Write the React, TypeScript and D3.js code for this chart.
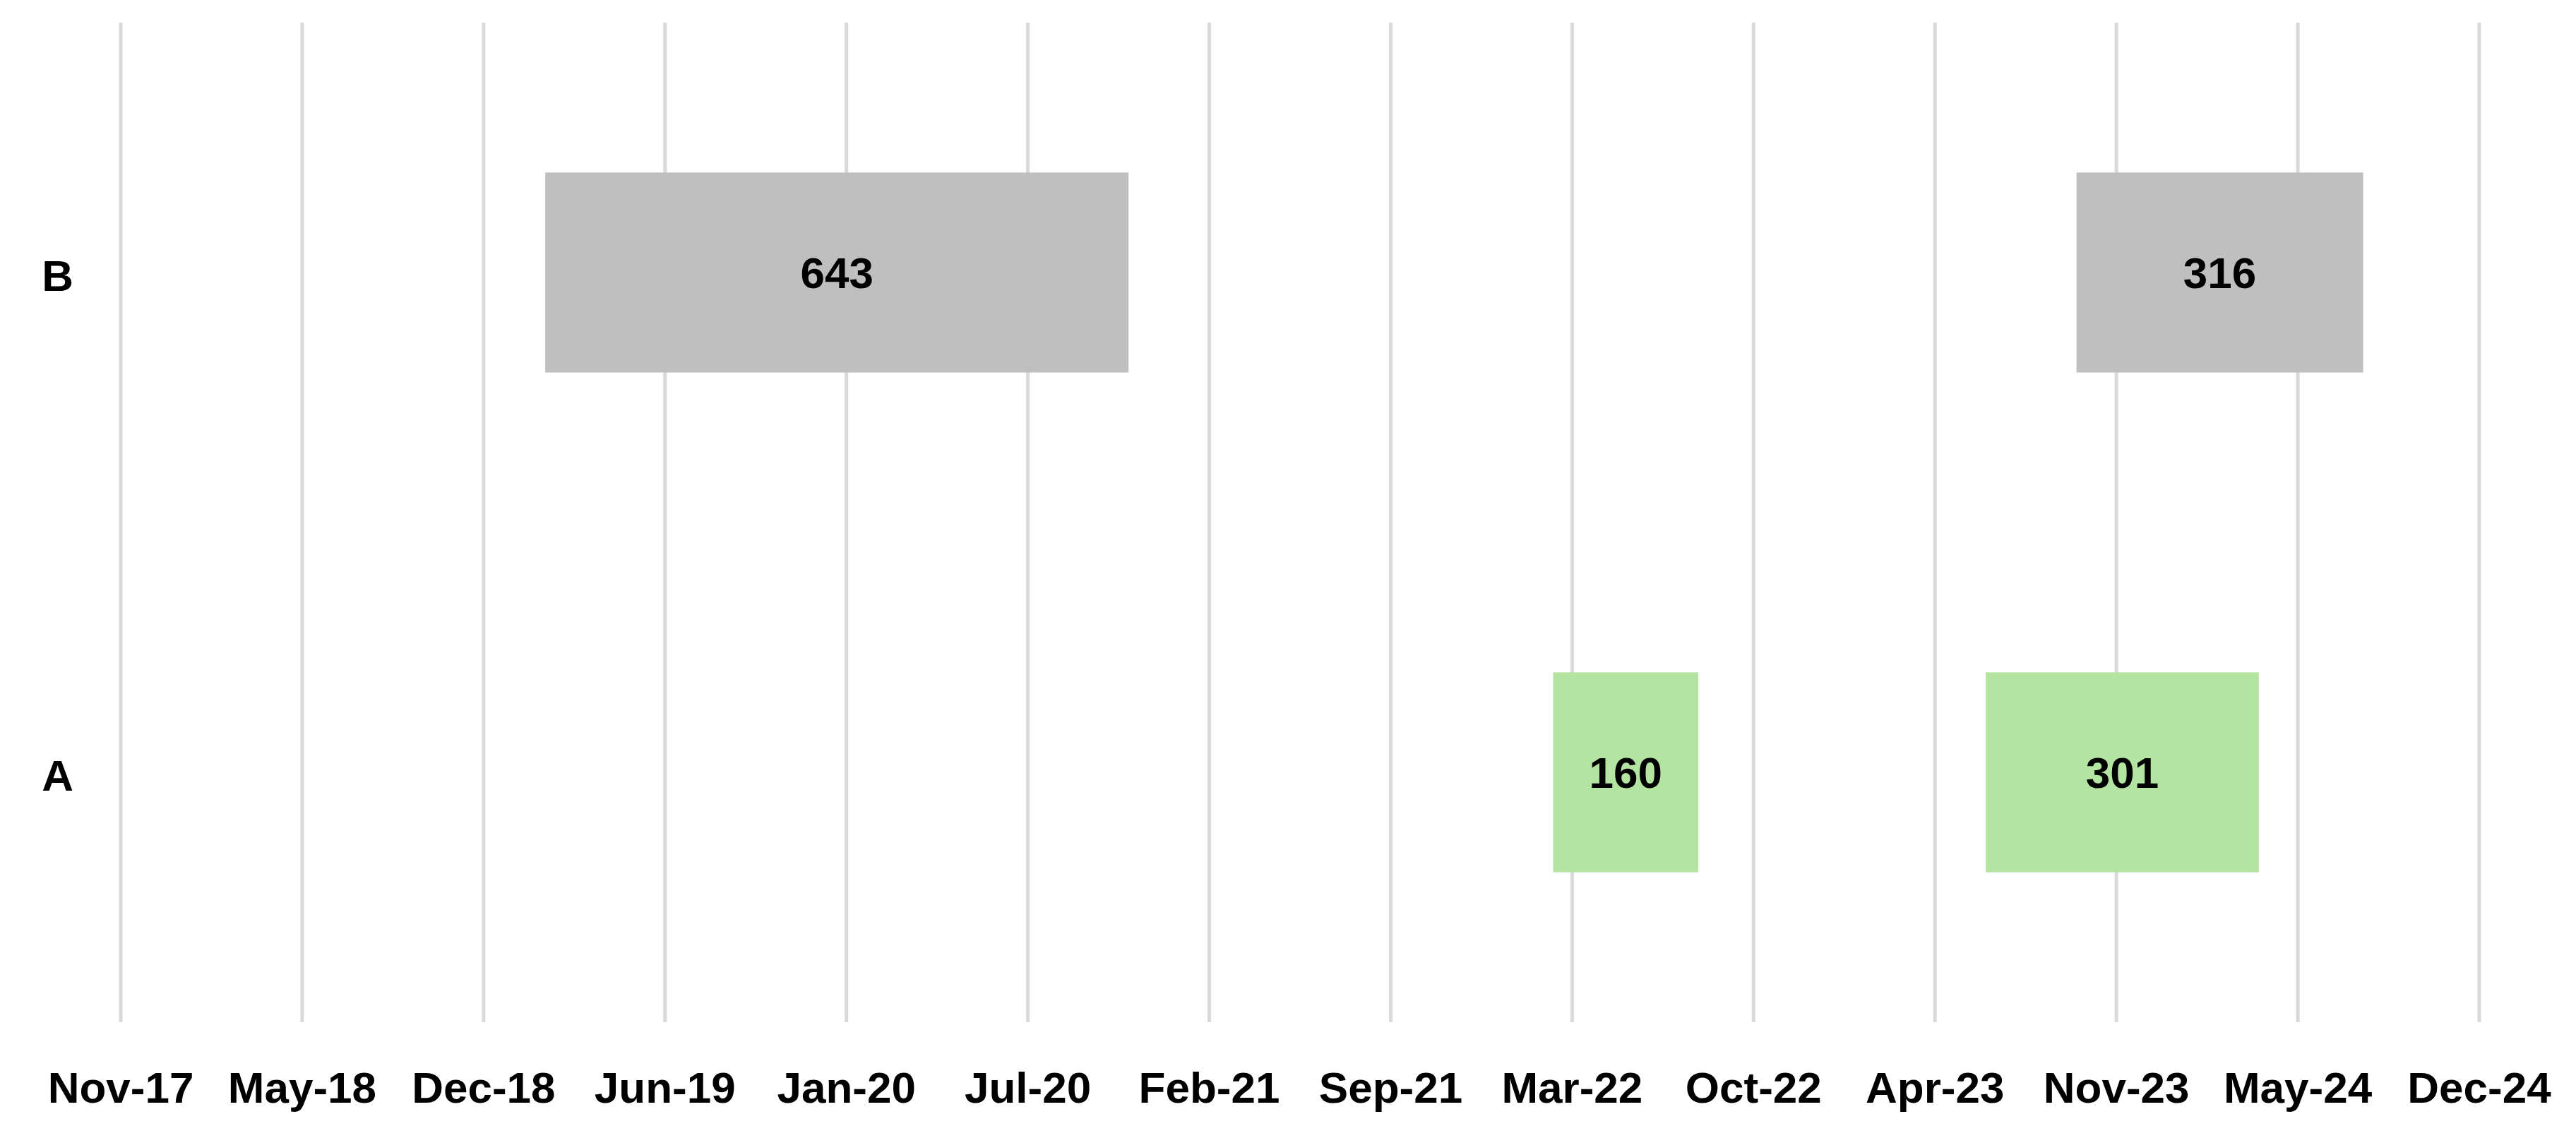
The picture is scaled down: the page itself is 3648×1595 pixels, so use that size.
import React from "react";
import * as d3 from "d3";

const categories = ["B", "A"];
const taskCategory = ["B", "B", "A", "A"];
const taskStart = ["2019-02-12", "2023-09-27", "2022-02-27", "2023-06-19"];
const taskDuration = [643, 316, 160, 301];
const taskColor = ["#BFBFBF", "#BFBFBF", "#B4E4A1", "#B4E4A1"];
const tickLabels = ["Nov-17", "May-18", "Dec-18", "Jun-19", "Jan-20", "Jul-20", "Feb-21", "Sep-21", "Mar-22", "Oct-22", "Apr-23", "Nov-23", "May-24", "Dec-24"];
const axisStart = "2017-11-01";
const tickStepDays = 200;

const W = 3648;
const H = 1595;
const margin = { left: 171, right: W - 3511, top: 32, bottom: H - 1448 };
const FONT = "'Liberation Sans', Arial, sans-serif";

export default function App() {
  const parse = d3.utcParse("%Y-%m-%d");
  const start = parse(axisStart) as Date;
  const tickDates = tickLabels.map((_, i) => d3.utcDay.offset(start, i * tickStepDays));
  const x = d3
    .scaleUtc()
    .domain([tickDates[0], tickDates[tickDates.length - 1]])
    .range([margin.left, W - margin.right]);
  const band = d3.scaleBand<string>().domain(categories).range([margin.top, H - margin.bottom]);

  const tasks = taskStart.map((s, i) => {
    const d0 = parse(s) as Date;
    const d1 = d3.utcDay.offset(d0, taskDuration[i]);
    return { cat: taskCategory[i], d0, d1, dur: taskDuration[i], color: taskColor[i] };
  });

  return (
    <svg
      width={W}
      height={H}
      style={{ position: "absolute", left: 0, top: 0, background: "#fff" }}
    >
      <rect x={0} y={0} width={W} height={H} fill="#fff" />
      {tickDates.map((d, i) => (
        <line
          key={"g" + i}
          x1={x(d)}
          x2={x(d)}
          y1={margin.top}
          y2={H - margin.bottom}
          stroke="#D9D9D9"
          strokeWidth={5}
        />
      ))}
      {tasks.map((t, i) => {
        const bh = band.bandwidth() * 0.4;
        const cy = (band(t.cat) as number) + band.bandwidth() / 2;
        return (
          <g key={"t" + i}>
            <rect
              x={x(t.d0)}
              y={cy - bh / 2}
              width={x(t.d1) - x(t.d0)}
              height={bh}
              fill={t.color}
            />
            <text
              x={(x(t.d0) + x(t.d1)) / 2}
              y={cy}
              dy="0.36em"
              textAnchor="middle"
              fontFamily={FONT}
              fontWeight="bold"
              fontSize={62}
              fill="#000"
            >
              {t.dur}
            </text>
          </g>
        );
      })}
      {categories.map((c) => (
        <text
          key={"c" + c}
          x={104}
          y={(band(c) as number) + band.bandwidth() / 2 + 4}
          dy="0.36em"
          textAnchor="end"
          fontFamily={FONT}
          fontWeight="bold"
          fontSize={62}
          fill="#000"
        >
          {c}
        </text>
      ))}
      {tickDates.map((d, i) => (
        <text
          key={"l" + i}
          x={x(d)}
          y={1562}
          textAnchor="middle"
          fontFamily={FONT}
          fontWeight="bold"
          fontSize={62}
          fill="#000"
        >
          {tickLabels[i]}
        </text>
      ))}
    </svg>
  );
}
